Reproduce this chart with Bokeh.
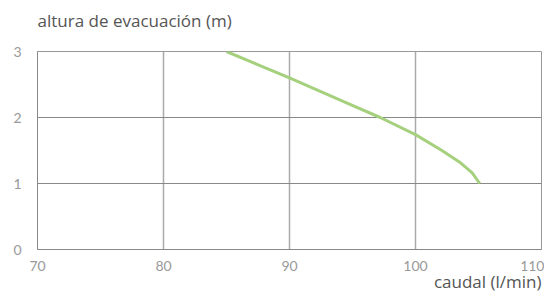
from bokeh.plotting import figure
from bokeh.models import Range1d, FixedTicker, Title, Label
from bokeh.embed import file_html
from bokeh.resources import INLINE

flow = [85, 90, 94.3, 97.2, 100, 102.1, 103.6, 104.5, 105.1]
head = [3.0, 2.6, 2.24, 2.0, 1.74, 1.5, 1.31, 1.16, 1.0]
x_ticks = [70, 80, 90, 100, 110]
y_ticks = [0, 1, 2, 3]

p = figure(width=544, height=293, output_backend="svg", toolbar_location=None,
           x_range=Range1d(70, 110), y_range=Range1d(0, 3),
           min_border_left=37, min_border_right=3, min_border_top=51, min_border_bottom=44)
p.title_location = None
p.background_fill_color = "white"
p.border_fill_color = "white"
p.outline_line_color = "#999999"
p.outline_line_width = 1

p.xaxis.ticker = FixedTicker(ticks=x_ticks)
p.yaxis.ticker = FixedTicker(ticks=y_ticks)
for ax in (p.xaxis, p.yaxis):
    ax.axis_line_color = "#888888"
    ax.axis_line_width = 1
    ax.major_tick_line_color = None
    ax.minor_tick_line_color = None
    ax.major_label_text_color = "#999999"
    ax.major_label_text_font = "Lato"
    ax.major_label_text_font_size = "14px"
p.xaxis.major_label_text_align = "left"
p.xaxis.major_label_standoff = 5
p.yaxis.major_label_standoff = 10

p.xgrid.ticker = FixedTicker(ticks=x_ticks)
p.ygrid.ticker = FixedTicker(ticks=y_ticks)
p.xgrid.grid_line_color = "#aaaaaa"
p.xgrid.grid_line_width = 1.5
p.ygrid.grid_line_color = "#888888"
p.ygrid.grid_line_width = 1

p.line(flow, head, line_color="#a5d07e", line_width=3)

p.add_layout(Label(x=0, y=31, x_units="screen", y_units="screen",
                   text="altura de evacuación (m)", text_font="Open Sans",
                   text_font_size="17px", text_color="#555555",
                   text_baseline="middle", text_align="left"), "above")

p.add_layout(Title(text="caudal (l/min)", align="right", text_font="Open Sans",
                   text_font_style="normal", text_font_size="17px",
                   text_color="#555555", standoff=-12), "below")

open("out.html", "w").write(file_html(p, INLINE))
